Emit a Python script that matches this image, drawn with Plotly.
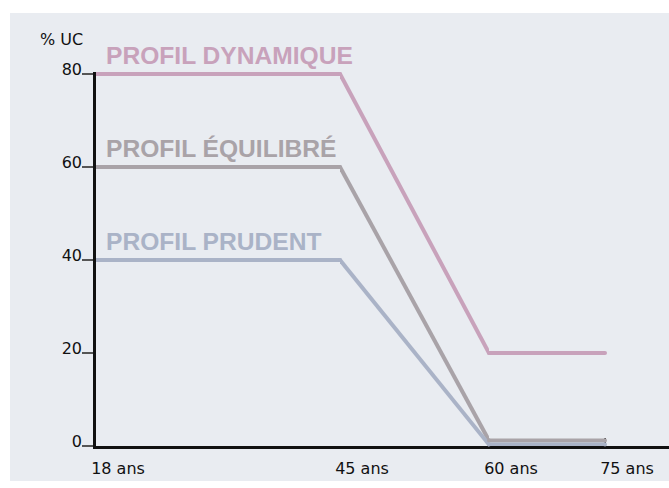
import plotly.graph_objects as go

# ---- data ----
ages = [18, 45, 60, 75]
age_labels = ["18 ans", "45 ans", "60 ans", "75 ans"]
dynamique = [80, 80, 20, 20]
equilibre = [60, 60, 1.2, 1.2]
prudent = [40, 40, 0.3, 0.3]
profile_names = ["PROFIL DYNAMIQUE", "PROFIL ÉQUILIBRÉ", "PROFIL PRUDENT"]
y_ticks = [0, 20, 40, 60, 80]
y_title = "% UC"

# ---- layout / style ----
W, H = 669, 488
colors = ["#c8a2bb", "#a9a3a8", "#aab3c7"]
BG = "#e9ecf1"
# schematic (piecewise) horizontal scale: pixel position of each age mark
x_px = [96, 340, 489, 605]
x_right_px = 669
y0_px, y80_px = 446, 74
y_max = 80.5

px_per_unit = (y0_px - y80_px) / 80.0
y_top_px = y0_px - y_max * px_per_unit

fig = go.Figure()

n_seg = len(ages) - 1
axis_names = ["x"] + [f"x{i+1}" for i in range(1, n_seg)]
for i in range(n_seg):
    lo, hi = ages[i], ages[i + 1]
    d0 = x_px[i] / W
    if i == n_seg - 1:
        d1 = 1.0
        ppy = (x_px[i + 1] - x_px[i]) / (hi - lo)
        r1 = lo + (x_right_px - x_px[i]) / ppy
    else:
        d1 = x_px[i + 1] / W
        r1 = hi
    if i == 0:
        tv, tt = [ages[0]], [age_labels[0]]
    elif i == n_seg - 1:
        tv, tt = ages[i:], age_labels[i:]
    else:
        tv, tt = [ages[i]], [age_labels[i]]
    key = "xaxis" if i == 0 else f"xaxis{i+1}"
    fig.layout[key] = dict(
        domain=[d0, d1], range=[lo, r1], anchor="y",
        showgrid=False, zeroline=False, automargin=False,
        showline=True, linecolor="#111", linewidth=2.5,
        ticks="inside", ticklen=8, tickwidth=1.5, tickcolor="#444",
        tickvals=tv, ticktext=tt, ticklabelshift=22, ticklabelstandoff=6,
        tickfont=dict(family="DejaVu Sans", size=16, color="#111"),
        layer="below traces", fixedrange=True,
    )

fig.update_layout(
    yaxis=dict(
        domain=[(H - y0_px) / H, (H - y_top_px) / H], range=[0, y_max],
        anchor="x", showgrid=False, zeroline=False, automargin=False,
        showline=True, linecolor="#111", linewidth=2.5,
        ticks="outside", ticklen=11, tickwidth=1.5, tickcolor="#555",
        tickvals=y_ticks, ticklabelshift=-5, ticklabelstandoff=-3,
        tickfont=dict(family="DejaVu Sans", size=16, color="#111"),
        fixedrange=True,
    )
)

series = [dynamique, equilibre, prudent]
for s, vals in enumerate(series):
    for i in range(n_seg):
        fig.add_trace(go.Scatter(
            x=[ages[i], ages[i + 1]], y=[vals[i], vals[i + 1]],
            xaxis=axis_names[i], yaxis="y",
            mode="lines+markers",
            line=dict(color=colors[s], width=4),
            marker=dict(color=colors[s], size=4),
            cliponaxis=False, showlegend=False, hoverinfo="skip",
        ))
    fig.add_annotation(
        x=ages[0], y=vals[0], xref="x", yref="y",
        text=profile_names[s], showarrow=False,
        xanchor="left", yanchor="bottom", xshift=8, yshift=3,
        font=dict(family="Liberation Sans", size=24.6, color=colors[s],
                  weight="bold"),
    )

fig.add_annotation(
    x=38 / W, y=(H - 40) / H, xref="paper", yref="paper",
    text=y_title, showarrow=False, xanchor="left", yanchor="middle",
    font=dict(family="DejaVu Sans", size=16, color="#111"),
)

fig.add_shape(
    type="rect", xref="paper", yref="paper",
    x0=10 / W, x1=1, y0=(H - 481) / H, y1=(H - 13) / H,
    fillcolor=BG, line=dict(width=0), layer="below",
)

fig.update_layout(
    width=W, height=H,
    margin=dict(l=0, r=0, t=0, b=0, autoexpand=False),
    paper_bgcolor="white", plot_bgcolor="rgba(0,0,0,0)",
    showlegend=False,
)

fig.write_html(
    "out.html",
    config={"displayModeBar": False},
    post_script="document.body.style.margin='0';document.body.style.overflow='hidden';",
)
